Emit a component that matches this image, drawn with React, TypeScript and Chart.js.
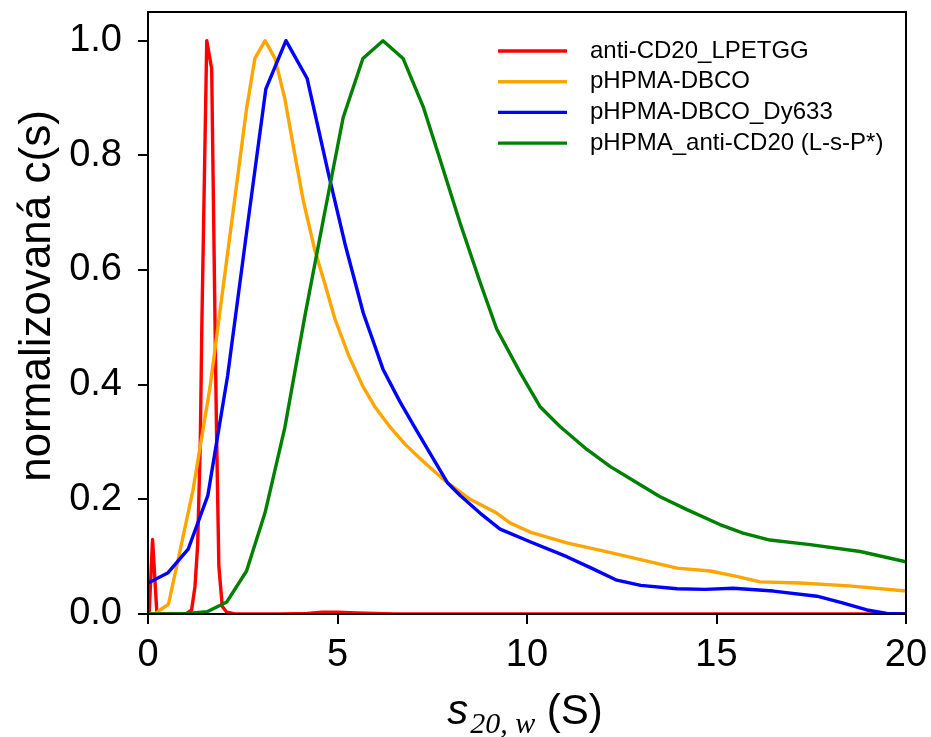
import { useEffect, useRef } from 'react';
import { Chart, registerables } from 'chart.js';

Chart.register(...registerables);

const SERIES_LABELS = ['anti-CD20_LPETGG', 'pHPMA-DBCO', 'pHPMA-DBCO_Dy633', 'pHPMA_anti-CD20 (L-s-P*)'];
const SERIES_COLORS = ['#ff0000', '#ffa500', '#0000ff', '#008000'];

const redX = [0, 0.03, 0.12, 0.23, 0.3, 0.5, 1.0, 1.15, 1.24, 1.31, 1.38, 1.42, 1.55, 1.68, 1.77, 1.81, 1.87, 1.96, 2.08, 2.3, 3.5, 4.2, 4.6, 5.0, 5.5, 6.5, 20];
const redY = [0, 0, 0.13, 0.006, 0.001, 0, 0, 0.007, 0.048, 0.12, 0.3, 0.5, 1.0, 0.951, 0.5, 0.31, 0.083, 0.013, 0.003, 0, 0, 0.001, 0.003, 0.003, 0.002, 0, 0];

const orangeX = [0, 0.2, 0.32, 0.54, 0.89, 1.19, 1.64, 1.94, 2.3, 2.6, 2.82, 3.09, 3.35, 3.61, 3.85, 4.1, 4.4, 4.67, 4.93, 5.3, 5.67, 6.0, 6.4, 6.8, 7.2, 7.5, 7.9, 8.5, 9.2, 9.55, 10.08, 11.05, 12.0, 12.8, 13.96, 14.83, 15.5, 16.15, 17.2, 18.5, 20];
const orangeY = [0, 0.001, 0.007, 0.017, 0.124, 0.217, 0.397, 0.549, 0.729, 0.881, 0.969, 1.0, 0.969, 0.899, 0.81, 0.72, 0.635, 0.575, 0.515, 0.45, 0.397, 0.36, 0.325, 0.295, 0.27, 0.252, 0.229, 0.2, 0.176, 0.159, 0.143, 0.124, 0.11, 0.098, 0.08, 0.075, 0.066, 0.056, 0.054, 0.049, 0.04];

const blueX = [0, 0.53, 1.06, 1.58, 2.1, 2.63, 3.11, 3.64, 4.2, 4.75, 5.2, 5.68, 6.2, 6.65, 7.0, 7.4, 7.9, 8.23, 8.76, 9.29, 10.08, 11.05, 11.7, 12.37, 13.0, 13.96, 14.7, 15.44, 16.5, 17.65, 18.3, 18.97, 19.5, 20];
const blueY = [0.054, 0.072, 0.113, 0.207, 0.415, 0.68, 0.916, 1.0, 0.934, 0.771, 0.645, 0.525, 0.427, 0.37, 0.33, 0.285, 0.229, 0.207, 0.176, 0.148, 0.126, 0.1, 0.08, 0.059, 0.05, 0.044, 0.043, 0.045, 0.04, 0.031, 0.02, 0.007, 0.001, 0];

const greenX = [0, 0.5, 1.03, 1.56, 2.08, 2.6, 3.09, 3.61, 4.14, 4.67, 5.15, 5.67, 6.2, 6.73, 7.26, 7.7, 8.23, 8.76, 9.2, 9.82, 10.34, 10.87, 11.58, 12.2, 12.9, 13.5, 14.22, 15.09, 15.7, 16.41, 17.47, 18.79, 20];
const greenY = [0, 0, 0.001, 0.004, 0.021, 0.075, 0.177, 0.325, 0.52, 0.703, 0.866, 0.969, 1.0, 0.969, 0.885, 0.794, 0.683, 0.579, 0.497, 0.421, 0.362, 0.327, 0.287, 0.257, 0.229, 0.205, 0.182, 0.156, 0.141, 0.129, 0.121, 0.109, 0.091];

const X_TICKS = [0, 5, 10, 15, 20];
const X_TICK_LABELS = ['0', '5', '10', '15', '20'];
const Y_TICKS = [0, 0.2, 0.4, 0.6, 0.8, 1.0];
const Y_TICK_LABELS = ['0.0', '0.2', '0.4', '0.6', '0.8', '1.0'];
const X_MIN = 0;
const X_MAX = 20;
const Y_MIN = 0;
const Y_MAX = 1.05;
const Y_TITLE = 'normalizovaná c(s)';
const X_TITLE_MAIN = 's';
const X_TITLE_SUB = '20, w';
const X_TITLE_UNIT = ' (S)';

const SANS = '"Liberation Sans", Arial, Helvetica, sans-serif';
const SERIF = '"Liberation Serif", "Times New Roman", serif';

const SERIES = [
  { xs: redX, ys: redY },
  { xs: orangeX, ys: orangeY },
  { xs: blueX, ys: blueY },
  { xs: greenX, ys: greenY },
];

const overlayPlugin = {
  id: 'overlay',
  afterDraw(chart: any) {
    const { ctx, chartArea } = chart;
    const { left, top, right, bottom } = chartArea;
    ctx.save();
    // frame
    ctx.strokeStyle = '#000';
    ctx.lineWidth = 2;
    ctx.strokeRect(left, top, right - left, bottom - top);

    // legend
    chart.data.datasets.forEach((ds: any, i: number) => {
      const y = top + 39 + i * 30.7;
      ctx.strokeStyle = ds.borderColor;
      ctx.lineWidth = 3.4;
      ctx.lineCap = 'butt';
      ctx.beginPath();
      ctx.moveTo(right - 408, y);
      ctx.lineTo(right - 339, y);
      ctx.stroke();
      ctx.fillStyle = '#000';
      ctx.font = `24px ${SANS}`;
      ctx.textAlign = 'left';
      ctx.textBaseline = 'middle';
      ctx.fillText(ds.label, right - 316, y);
    });

    // y title
    ctx.save();
    ctx.translate(50, 296);
    ctx.rotate(-Math.PI / 2);
    ctx.font = `44px ${SANS}`;
    ctx.fillStyle = '#000';
    ctx.textAlign = 'center';
    ctx.textBaseline = 'alphabetic';
    ctx.fillText(Y_TITLE, 0, 0);
    ctx.restore();

    // x title
    const fMain = `italic 42px ${SANS}`;
    const fSub = `italic 30px ${SERIF}`;
    const fUnit = `42px ${SANS}`;
    ctx.font = fMain;
    const w1 = ctx.measureText(X_TITLE_MAIN).width;
    ctx.font = fSub;
    const w2 = ctx.measureText(X_TITLE_SUB).width;
    ctx.font = fUnit;
    const w3 = ctx.measureText(X_TITLE_UNIT).width;
    const gap = 2;
    const total = w1 + gap + w2 + w3;
    let x = (left + right) / 2 - 2 - total / 2;
    const base = 724;
    ctx.textAlign = 'left';
    ctx.textBaseline = 'alphabetic';
    ctx.font = fMain;
    ctx.fillText(X_TITLE_MAIN, x, base);
    x += w1 + gap;
    ctx.font = fSub;
    ctx.fillText(X_TITLE_SUB, x, base + 9);
    x += w2;
    ctx.font = fUnit;
    ctx.fillText(X_TITLE_UNIT, x, base);
    ctx.restore();
  },
};

export default function App() {
  const canvasRef = useRef<HTMLCanvasElement | null>(null);

  useEffect(() => {
    const canvas = canvasRef.current;
    if (!canvas) return;
    const datasets = SERIES.map((s, i) => ({
      label: SERIES_LABELS[i],
      data: s.xs.map((xv, j) => ({ x: xv, y: s.ys[j] })),
      borderColor: SERIES_COLORS[i],
      backgroundColor: SERIES_COLORS[i],
      borderWidth: 3.4,
      pointRadius: 0,
      pointHoverRadius: 0,
      tension: 0,
      fill: false,
      borderJoinStyle: 'round' as const,
      order: SERIES.length - 1 - i,
    }));

    const chart = new Chart(canvas, {
      type: 'line',
      data: { datasets },
      options: {
        animation: false,
        responsive: false,
        devicePixelRatio: 1,
        events: [],
        layout: { padding: { left: 0, top: 12, right: 25, bottom: 0 } },
        plugins: {
          legend: { display: false },
          tooltip: { enabled: false },
          title: { display: false },
        },
        scales: {
          x: {
            type: 'linear',
            min: X_MIN,
            max: X_MAX,
            afterBuildTicks: (scale: any) => {
              scale.ticks = X_TICKS.map((v) => ({ value: v }));
            },
            afterFit: (scale: any) => {
              scale.height = 123;
              scale.paddingLeft = 0;
              scale.paddingRight = 0;
              scale.paddingTop = 0;
              scale.paddingBottom = 0;
            },
            ticks: {
              autoSkip: false,
              maxRotation: 0,
              padding: 9,
              color: '#000',
              font: { family: SANS, size: 38 },
              callback: (_v: any, i: number) => X_TICK_LABELS[i],
            },
            grid: {
              drawOnChartArea: false,
              drawTicks: true,
              tickLength: 10,
              tickWidth: 2,
              tickColor: '#000',
              color: '#000',
              lineWidth: 2,
            },
            border: { display: true, color: '#000', width: 2 },
          },
          y: {
            type: 'linear',
            min: Y_MIN,
            max: Y_MAX,
            afterBuildTicks: (scale: any) => {
              scale.ticks = Y_TICKS.map((v) => ({ value: v }));
            },
            afterFit: (scale: any) => {
              scale.width = 148;
              scale.paddingLeft = 0;
              scale.paddingRight = 0;
              scale.paddingTop = 0;
              scale.paddingBottom = 0;
            },
            ticks: {
              autoSkip: false,
              padding: 16,
              color: '#000',
              font: { family: SANS, size: 38 },
              callback: (_v: any, i: number) => Y_TICK_LABELS[i],
            },
            grid: {
              drawOnChartArea: false,
              drawTicks: true,
              tickLength: 10,
              tickWidth: 2,
              tickColor: '#000',
              color: '#000',
              lineWidth: 2,
            },
            border: { display: true, color: '#000', width: 2 },
          },
        },
      },
      plugins: [overlayPlugin],
    });

    return () => {
      chart.destroy();
    };
  }, []);

  return (
    <div style={{ position: 'absolute', left: 0, top: 0, width: 931, height: 737, background: '#fff' }}>
      <canvas ref={canvasRef} width={931} height={737} style={{ width: 931, height: 737, display: 'block' }} />
    </div>
  );
}
